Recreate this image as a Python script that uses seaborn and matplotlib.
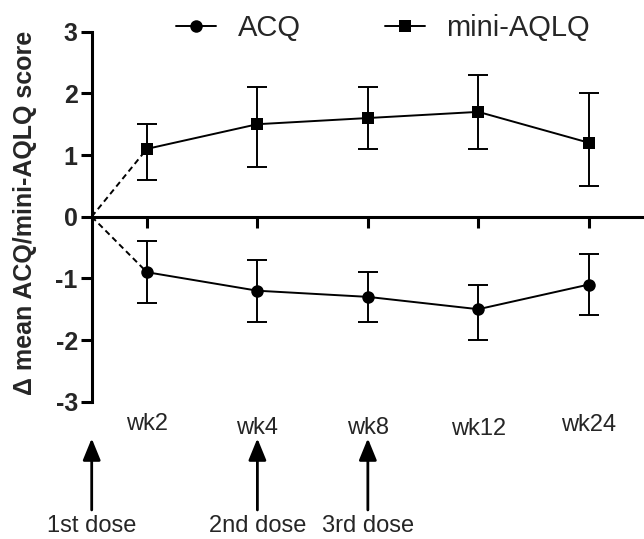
import numpy as np
import pandas as pd
import matplotlib
matplotlib.use("Agg")
import matplotlib.pyplot as plt
import seaborn as sns
from matplotlib.lines import Line2D

# ---- data ----
weeks = ["wk2", "wk4", "wk8", "wk12", "wk24"]
week_pos = [1, 3, 5, 7, 9]
acq_mean = [-0.9, -1.2, -1.3, -1.5, -1.1]
acq_lo = [-1.4, -1.7, -1.7, -2.0, -1.6]
acq_hi = [-0.4, -0.7, -0.9, -1.1, -0.6]
aqlq_mean = [1.1, 1.5, 1.6, 1.7, 1.2]
aqlq_lo = [0.6, 0.8, 1.1, 1.1, 0.5]
aqlq_hi = [1.5, 2.1, 2.1, 2.3, 2.0]
dose_labels = ["1st dose", "2nd dose", "3rd dose"]
dose_pos = [0, 3, 5]
yticks = [-3, -2, -1, 0, 1, 2, 3]

sns.set_theme(style="ticks")
plt.rcParams["font.family"] = ["Liberation Sans", "DejaVu Sans"]

W, H = 644, 539
fig = plt.figure(figsize=(6.44, 5.39), dpi=100)
ax = fig.add_axes([0.1424, 0.2547, 0.8576, 0.6865])

df = pd.DataFrame({
    "x": week_pos * 2,
    "y": acq_mean + aqlq_mean,
    "series": ["ACQ"] * 5 + ["mini-AQLQ"] * 5,
})

sns.lineplot(data=df, x="x", y="y", hue="series", style="series",
             markers={"ACQ": "o", "mini-AQLQ": "s"}, dashes=False,
             palette={"ACQ": "black", "mini-AQLQ": "black"},
             markersize=9, linewidth=1.4, markeredgewidth=0,
             legend=False, ax=ax, zorder=3)

for m, lo, hi in [(acq_mean, acq_lo, acq_hi), (aqlq_mean, aqlq_lo, aqlq_hi)]:
    m = np.array(m); lo = np.array(lo); hi = np.array(hi)
    ax.errorbar(week_pos, m, yerr=[m - lo, hi - m], fmt="none", ecolor="black",
                elinewidth=1.4, capsize=7.5, capthick=1.4, zorder=2)
    ax.plot([0, week_pos[0]], [0, m[0]], linestyle=(0, (3, 2)), color="black",
            linewidth=1.4, zorder=2)

ax.set_xlim(0, 10)
ax.set_ylim(-3, 3)
ax.spines["bottom"].set_position(("data", 0))
ax.spines["top"].set_visible(False)
ax.spines["right"].set_visible(False)
for s in ["left", "bottom"]:
    ax.spines[s].set_linewidth(2.2)
    ax.spines[s].set_color("black")
ax.set_xticks(week_pos)
ax.set_xticklabels([])
ax.set_yticks(yticks)
ax.set_yticklabels([str(t) for t in yticks], fontsize=18, fontweight="bold")
ax.tick_params(axis="both", direction="out", length=8, width=2.2, color="black", pad=2)
ax.set_xlabel("")
ax.set_ylabel("")
fig.text(25 / W, 1 - 213 / H, "\u0394 mean ACQ/mini-AQLQ score", rotation=90,
         ha="center", va="center", fontsize=18, fontweight="bold")

label_y = [-3.36, -3.42, -3.42, -3.45, -3.37]
for w, p, yy in zip(weeks, week_pos, label_y):
    ax.text(p, yy, w, ha="center", va="center", fontsize=17, clip_on=False)

for lab, p in zip(dose_labels, dose_pos):
    ax.annotate("", xy=(p, -3.55), xytext=(p, -4.8), xycoords="data", textcoords="data",
                arrowprops=dict(arrowstyle="-|>,head_length=1.1,head_width=0.45",
                                color="black", lw=2), annotation_clip=False)
    ax.annotate(lab, xy=(p, 0), xycoords=("data", "figure fraction"),
                xytext=(0, 2), textcoords="offset pixels",
                ha="center", va="bottom", fontsize=17, annotation_clip=False)

handles = [
    Line2D([0], [0], color="black", marker="o", markersize=9, linewidth=1.4, markeredgewidth=0),
    Line2D([0], [0], color="black", marker="s", markersize=9, linewidth=1.4, markeredgewidth=0),
]
fig.legend(handles, ["ACQ", "mini-AQLQ"], loc="center", bbox_to_anchor=(0.595, 0.948),
           ncol=2, frameon=False, fontsize=21, handlelength=1.35, handletextpad=0.75,
           columnspacing=2.9)

fig.savefig("out.png", dpi=100)
